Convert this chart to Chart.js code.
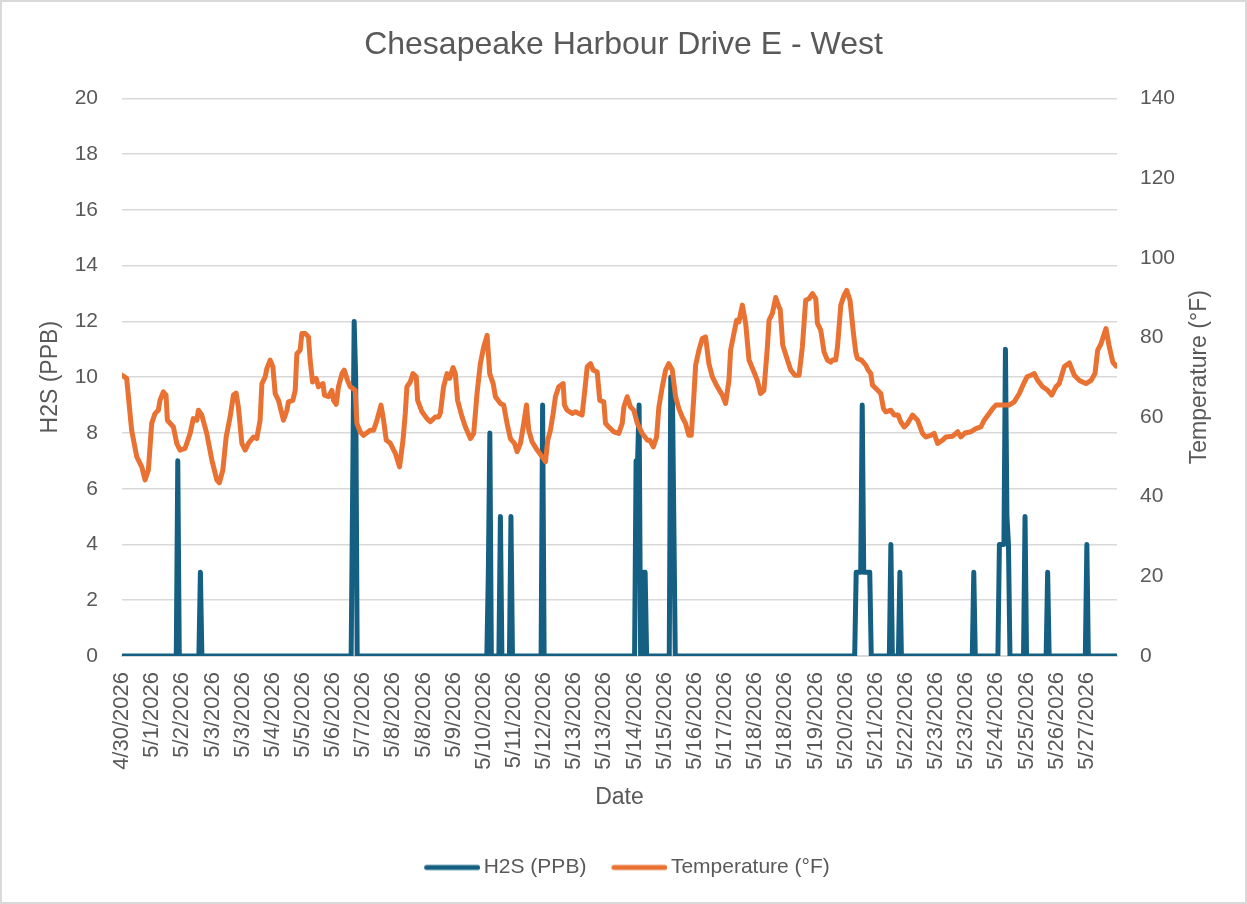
<!DOCTYPE html>
<html>
<head>
<meta charset="utf-8">
<title>Chesapeake Harbour Drive E - West</title>
<script src="https://cdn.jsdelivr.net/npm/chart.js@4.4.1/dist/chart.umd.min.js"></script>
<style>
    html, body { margin: 0; padding: 0; background: #fff; }
    #wrap { position: relative; width: 1247px; height: 904px; }
</style>
</head>
<body>
<div id="wrap"><canvas id="chart"></canvas></div>
<script>
// Tick labels on the date axis, one every 20 hours (hour 0 = 4/30 noon)
const tickLabels = [
    '4/30/2026', '5/1/2026', '5/2/2026', '5/3/2026', '5/3/2026', '5/4/2026', '5/5/2026',
    '5/6/2026', '5/7/2026', '5/8/2026', '5/8/2026', '5/9/2026', '5/10/2026', '5/11/2026',
    '5/12/2026', '5/13/2026', '5/13/2026', '5/14/2026', '5/15/2026', '5/16/2026', '5/17/2026',
    '5/18/2026', '5/18/2026', '5/19/2026', '5/20/2026', '5/21/2026', '5/22/2026', '5/23/2026',
    '5/23/2026', '5/24/2026', '5/25/2026', '5/26/2026', '5/27/2026'
];
const hoursPerTick = 20;
const lastHour = 660;

// H2S (PPB): [hour, value]
const h2s = [
    [0, 0], [36, 0], [37, 7], [38, 0], [51, 0], [52, 3], [53, 0],
    [152, 0], [153, 6], [154, 12], [155, 10], [156, 0],
    [242, 0], [243, 3], [244, 8], [245, 0], [250, 0], [251, 5], [252, 0],
    [257, 0], [258, 5], [259, 0], [278, 0], [279, 9], [280, 0],
    [340, 0], [341, 7], [342, 7], [343, 9], [344, 0], [345, 0], [346, 3], [347, 3], [348, 0],
    [363, 0], [364, 10], [365, 10], [366, 5], [367, 0],
    [486, 0], [487, 3], [488, 3], [489, 3], [490, 3], [491, 9], [492, 3], [493, 3],
    [494, 3], [495, 3], [496, 3], [497, 0],
    [509, 0], [510, 4], [511, 0], [515, 0], [516, 3], [517, 0], [564, 0], [565, 3], [566, 0],
    [581, 0], [582, 4], [583, 4], [584, 4], [585, 4], [586, 11], [587, 5], [588, 4], [589, 0],
    [598, 0], [599, 5], [600, 0], [613, 0], [614, 3], [615, 0], [639, 0], [640, 4], [641, 0],
    [660, 0]
];

// Temperature (°F): [hour, value]
const temperature = [
    [0, 70.5], [3.1, 69.7], [6.4, 56.7], [9.8, 50], [13.1, 47.5], [15.3, 44.2], [17.5, 46.7],
    [19.7, 58.4], [21.9, 60.9], [24.1, 61.7], [25.2, 64.2], [27.4, 66.3], [29.2, 65.5], [30.1, 59.2],
    [34.1, 57.5], [36.3, 53.4], [38.5, 51.7], [41.8, 52.1], [45.2, 55.9], [47.3, 59.6], [49.6, 59.2],
    [50.7, 61.7], [52.9, 60.5], [56.2, 55.9], [59.6, 49.2], [62.9, 44.2], [64.6, 43.5], [66.9, 46.7],
    [69.1, 55], [71.7, 60], [73.9, 65.5], [75.7, 66], [77.2, 62.5], [79.5, 53.4], [81.7, 51.7],
    [83.9, 53.4], [87.2, 55], [89.4, 54.6], [91.6, 59.2], [92.8, 68.4], [95, 70.1], [96.1, 72.2],
    [98.3, 74.3], [100.1, 72.6], [101.6, 65.9], [103.8, 64.2], [107.1, 59.2], [109.4, 61.7],
    [110.4, 63.8], [113.3, 64.2], [114.9, 66.7], [116, 75.9], [118.2, 76.8], [119.3, 81],
    [121.5, 81], [123.7, 80.1], [124.8, 74.3], [126.4, 68.8], [128.8, 69.7], [130.3, 67.6],
    [133.3, 68.4], [134.3, 65.5], [137, 65.1], [139.2, 66.7], [140.3, 64.2], [142.1, 63.2],
    [143.6, 67.6], [145.9, 70.9], [147.4, 71.8], [149.6, 69.2], [151.4, 67.6], [154.7, 66.7],
    [155.8, 58.4], [158, 56.3], [160.2, 55.4], [164.7, 56.7], [166.9, 56.7], [169.1, 59.2],
    [171.8, 63], [173.5, 59.2], [175.3, 54.2], [178, 53.4], [181.3, 50.9], [184.1, 47.5],
    [186.4, 54.2], [187.9, 60.9], [189, 67.6], [191.2, 68.8], [193, 70.9], [195.2, 70.1],
    [196.1, 64.2], [199, 61.3], [202.3, 59.6], [204.5, 58.8], [207.8, 60], [210, 60], [211.2, 61],
    [213.3, 67.6], [215.6, 70.9], [217.3, 69.7], [219.6, 72.4], [221.1, 70.9], [222.6, 64.2],
    [225.6, 60], [227.8, 57.5], [231.1, 54.6], [233.3, 55.9], [235.5, 65.9], [237.7, 73.4],
    [239.9, 77.6], [242.2, 80.5], [243.9, 70.9], [246.2, 68.4], [247.7, 65.1], [251, 63.4],
    [253.2, 63], [255.4, 58.4], [257.6, 54.6], [260.3, 53.4], [262.1, 51.3], [264.3, 53.4],
    [266.5, 58.4], [268.3, 63], [269.8, 56.7], [272, 53.8], [275.4, 51.7], [278.7, 50],
    [280.9, 48.8], [282.4, 54.2], [284.2, 56.7], [286, 60.9], [287.5, 65.1], [289.7, 67.6],
    [292.6, 68.4], [293.5, 63], [295.3, 61.7], [298.6, 60.9], [300.8, 61.3], [303, 60.9],
    [305.2, 60.5], [307, 66.7], [308.6, 72.6], [310.8, 73.4], [312.5, 71.8], [315.2, 71.3],
    [316.9, 64.2], [319.6, 63.8], [320.7, 58.4], [322.9, 57.5], [326.2, 56.3], [329.5, 55.9],
    [331.8, 58.4], [332.9, 62.5], [335.1, 65.1], [337.3, 62.5], [339.5, 61.7], [341.8, 58.4],
    [345.1, 55.9], [348.4, 54.2], [350.1, 54.2], [352.4, 52.5], [354.6, 55], [356.1, 62.5],
    [358.4, 67.6], [360.6, 71.8], [362.7, 73.4], [365, 71.8], [367.2, 65.1], [369.4, 62.1],
    [371.6, 60], [373.8, 58.4], [376, 55.4], [377.6, 55.4], [379.3, 65.1], [380.5, 73],
    [382.7, 76.8], [384.9, 79.7], [387.1, 80.1], [389.3, 73.4], [391.6, 70.1], [394.9, 67.6],
    [398.2, 65.5], [400.4, 63.4], [402.6, 69.2], [403.7, 76.8], [405.9, 81], [407.7, 84.3],
    [409.2, 83.9], [411.5, 88.1], [413.7, 83.5], [415.9, 74.3], [419.2, 71.3], [421.4, 69.2],
    [423.6, 65.9], [425.8, 66.7], [428.1, 77.6], [429.2, 84.3], [431.4, 86], [433.6, 90],
    [435.8, 87.6], [436.6, 87], [438.3, 78], [441.4, 74.3], [443.6, 71.8], [446.3, 70.5],
    [449.1, 70.5], [451.3, 77.6], [453.5, 89.3], [455.7, 89.7], [458, 91], [460.2, 89.7],
    [461.3, 83.5], [463.5, 81.8], [465.7, 76.3], [467.9, 74.3], [470.1, 73.8], [471.2, 74.3],
    [473.4, 74.3], [474.6, 77.6], [476.8, 88.1], [479, 90.6], [480.7, 91.8], [482.9, 89.3],
    [485.2, 81], [486.7, 76.3], [487.8, 74.7], [490.5, 74.3], [493.4, 73], [494.9, 71.8],
    [496.7, 70.9], [497.8, 68], [500, 67.2], [503.3, 65.9], [505.1, 62.1], [506.6, 61.3],
    [510, 61.7], [512.2, 60.5], [514.8, 60.5], [516.6, 58.8], [518.8, 57.5], [521.1, 58.4],
    [524.4, 60.5], [527.7, 59.2], [531, 55.9], [533.2, 55], [536.5, 55.4], [538.7, 55.9],
    [541, 53.4], [544.3, 54.2], [546.5, 55], [551, 55.2], [554.3, 56.3], [556.4, 55],
    [559.1, 56], [563.1, 56.3], [566.4, 57.1], [569.7, 57.5], [571.9, 59.2], [575.2, 60.9],
    [577.5, 62.1], [579.7, 63], [585.2, 63], [588.5, 63], [591.8, 63.8], [595.2, 65.9],
    [598.1, 68.4], [600.3, 70.1], [602.9, 70.5], [605.1, 70.9], [607.4, 69.2], [610.7, 67.6],
    [614, 66.7], [616.7, 65.5], [619.5, 67.6], [621.7, 68.4], [625, 72.6], [628.4, 73.6],
    [631.7, 70.5], [635, 69.2], [639.4, 68.4], [642.8, 69.2], [645.4, 70.9], [647.2, 76.8],
    [649.4, 78.4], [651.6, 81], [652.7, 82.2], [654.9, 77.6], [657.2, 73.8], [659.4, 72.8],
    [660, 73]
];

const textColor = '#595959';
const gridColor = '#d9d9d9';
const h2sColor = '#156082';
const tempColor = '#e97132';
const fontFamily = '"Liberation Sans", Arial, sans-serif';

Chart.defaults.font.family = fontFamily;
Chart.defaults.color = textColor;

// Legend swatch: a line sitting close to its text, like Excel's legend
function legendLine(color) {
    const c = document.createElement('canvas');
    c.width = 70;
    c.height = 10;
    const g = c.getContext('2d');
    g.strokeStyle = color;
    g.lineWidth = 5;
    g.lineCap = 'round';
    g.beginPath();
    g.moveTo(16.5, 5);
    g.lineTo(67.5, 5);
    g.stroke();
    return c;
}

// Excel style frame around the whole chart
const chartFrame = {
    id: 'chartFrame',
    beforeDraw(chart) {
        const ctx = chart.ctx;
        ctx.save();
        ctx.fillStyle = '#ffffff';
        ctx.fillRect(0, 0, chart.width, chart.height);
        ctx.strokeStyle = gridColor;
        ctx.lineWidth = 2;
        ctx.strokeRect(1, 1, chart.width - 2, chart.height - 2);
        ctx.restore();
    }
};

// Secondary axis title reads bottom to top, like Excel
const rightAxisTitle = {
    id: 'rightAxisTitle',
    afterDraw(chart) {
        const ctx = chart.ctx;
        const axis = chart.scales.y1;
        const area = chart.chartArea;
        ctx.save();
        ctx.font = '23px ' + fontFamily;
        ctx.fillStyle = textColor;
        ctx.textAlign = 'center';
        ctx.textBaseline = 'middle';
        ctx.translate(axis.right - 47, (area.top + area.bottom) / 2);
        ctx.rotate(-Math.PI / 2);
        ctx.fillText('Temperature (°F)', 0, 0);
        ctx.restore();
    }
};

const ctx = document.getElementById('chart').getContext('2d');

new Chart(ctx, {
    type: 'line',
    data: {
        datasets: [
            {
                label: 'H2S (PPB)',
                data: h2s.map(p => ({ x: p[0], y: p[1] })),
                yAxisID: 'y',
                borderColor: h2sColor,
                backgroundColor: h2sColor,
                borderWidth: 5,
                borderJoinStyle: 'round',
                borderCapStyle: 'round',
                pointRadius: 0,
                pointStyle: legendLine(h2sColor),
                tension: 0,
                order: 1
            },
            {
                label: 'Temperature (°F)',
                data: temperature.map(p => ({ x: p[0], y: p[1] })),
                yAxisID: 'y1',
                borderColor: tempColor,
                backgroundColor: tempColor,
                borderWidth: 5,
                borderJoinStyle: 'round',
                borderCapStyle: 'round',
                pointRadius: 0,
                pointStyle: legendLine(tempColor),
                tension: 0,
                order: 0
            }
        ]
    },
    options: {
        responsive: true,
        maintainAspectRatio: false,
        animation: false,
        layout: {
            padding: { top: 0, right: 0, bottom: 16, left: 0 }
        },
        scales: {
            x: {
                type: 'linear',
                min: 0,
                max: lastHour,
                grid: { display: false, drawTicks: false },
                border: { display: true, color: gridColor, width: 2 },
                afterBuildTicks: (scale) => {
                    scale.ticks = tickLabels.map((_, i) => ({ value: i * hoursPerTick }));
                },
                afterFit: (scale) => { scale.height = 183; },
                ticks: {
                    autoSkip: false,
                    minRotation: 90,
                    maxRotation: 90,
                    padding: 16,
                    font: { size: 22 },
                    color: textColor,
                    callback: (value, index) => tickLabels[index]
                },
                title: {
                    display: true,
                    text: 'Date',
                    font: { size: 23 },
                    color: textColor,
                    padding: { top: 0, bottom: 28 }
                }
            },
            y: {
                position: 'left',
                min: 0,
                max: 20,
                grid: { color: gridColor, lineWidth: 1.5, drawTicks: false },
                border: { display: false },
                afterFit: (scale) => { scale.width = 122; },
                ticks: {
                    stepSize: 2,
                    padding: 24,
                    font: { size: 21 },
                    color: textColor
                },
                title: {
                    display: true,
                    text: 'H2S (PPB)',
                    font: { size: 23 },
                    color: textColor,
                    padding: { top: 37, bottom: 0 }
                }
            },
            y1: {
                position: 'right',
                min: 0,
                max: 140,
                grid: { display: false, drawTicks: false },
                border: { display: false },
                afterFit: (scale) => { scale.width = 130; },
                ticks: {
                    stepSize: 20,
                    padding: 23,
                    font: { size: 21 },
                    color: textColor
                }
            }
        },
        plugins: {
            title: {
                display: true,
                text: 'Chesapeake Harbour Drive E - West',
                color: textColor,
                font: { size: 32, weight: 'normal' },
                padding: { top: 26, bottom: 34 }
            },
            legend: {
                position: 'bottom',
                labels: {
                    usePointStyle: true,
                    pointStyleWidth: 56,
                    padding: 18,
                    font: { size: 21 },
                    color: textColor,
                    sort: (a, b) => a.datasetIndex - b.datasetIndex
                }
            },
            tooltip: { enabled: false }
        }
    },
    plugins: [chartFrame, rightAxisTitle]
});
</script>
</body>
</html>
